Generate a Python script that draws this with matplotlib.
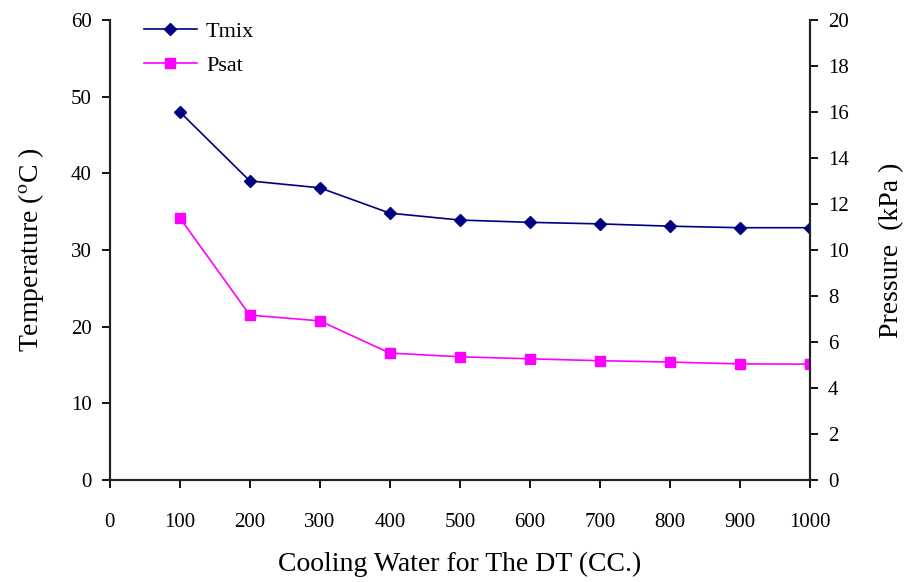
import matplotlib
matplotlib.use('Agg')
import matplotlib.pyplot as plt

# data
cooling_water = [100, 200, 300, 400, 500, 600, 700, 800, 900, 1000]
tmix = [48.0, 39.0, 38.1, 34.8, 33.9, 33.6, 33.4, 33.1, 32.9, 32.9]
psat = [11.4, 7.17, 6.92, 5.52, 5.36, 5.27, 5.19, 5.13, 5.05, 5.04]

plt.rcParams['font.family'] = ['Liberation Serif', 'DejaVu Serif']
plt.rcParams['mathtext.fontset'] = 'stix'

fig = plt.figure(figsize=(9.07, 5.82), dpi=100)
ax = fig.add_axes([0.121, 0.175, 0.772, 0.791])
ax2 = ax.twinx()

l1, = ax.plot(cooling_water, tmix, color='#000080', marker='D', markersize=6,
              linewidth=1.2, label='Tmix')
l2, = ax2.plot(cooling_water, psat, color='#FF00FF', marker='s', markersize=7,
               linewidth=1.2, label='Psat')

ax.set_xlim(0, 1000)
ax.set_ylim(0, 60)
ax2.set_ylim(0, 20)
ax.set_xticks(range(0, 1001, 100))
ax.set_yticks(range(0, 61, 10))
ax2.set_yticks(range(0, 21, 2))

for a in (ax, ax2):
    a.spines['top'].set_visible(False)
    for s in a.spines.values():
        s.set_linewidth(1.5)
        s.set_color('#222222')
ax.tick_params(axis='x', direction='out', length=6, width=1.3, pad=18, labelsize=15)
ax.tick_params(axis='y', direction='out', length=6, width=1.3, pad=7, labelsize=15)
ax2.tick_params(axis='y', direction='out', length=6, width=1.3, pad=7, labelsize=15)

ax.set_xlabel('Cooling Water for The DT (CC.)', fontsize=20, labelpad=14)
ax.set_ylabel(r'Temperature ($^{\rm o}$C )', fontsize=20, labelpad=18)
ax2.set_ylabel('Pressure  (kPa )', fontsize=20, labelpad=22)

ax.legend([l1, l2], ['Tmix', 'Psat'], loc='upper left', bbox_to_anchor=(0.02, 1.04),
          frameon=False, fontsize=16, handlelength=2.4, handletextpad=0.4,
          labelspacing=0.6)

fig.savefig('out.png', dpi=100)
